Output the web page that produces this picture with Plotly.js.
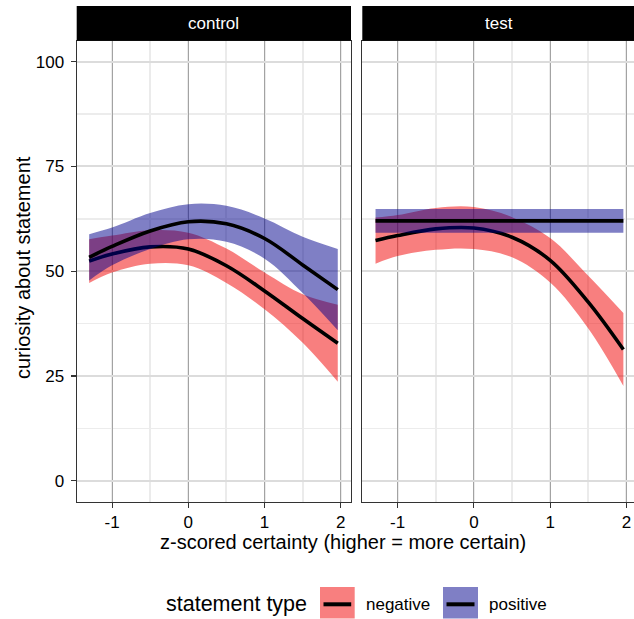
<!DOCTYPE html>
<html>
<head>
<meta charset="utf-8">
<script src="https://cdn.plot.ly/plotly-3.0.1.min.js"></script>
<style>
html, body { margin: 0; padding: 0; overflow: hidden; background: #fff; }
#chart { width: 640px; height: 619px; }
</style>
</head>
<body>
<div id="chart"></div>
<script>
// ---- data ----
const panels = ['control', 'test'];
const seriesNames = ['negative', 'positive'];

const ctrlNegX   = [-1.30, -1.0, -0.5, 0, 0.5, 1.0, 1.5, 1.96];
const ctrlNegFit = [52.4, 54.1, 55.8, 55.3, 51.3, 45.3, 38.7, 32.8];
const ctrlNegCI  = [5.2, 4.4, 4.0, 3.9, 4.1, 4.4, 5.8, 9.2];

const ctrlPosX   = [-1.30, -1.0, -0.5, 0, 0.5, 1.0, 1.5, 1.96];
const ctrlPosFit = [53.3, 55.9, 59.6, 61.8, 61.3, 57.8, 51.5, 45.6];
const ctrlPosCI  = [5.5, 4.5, 4.3, 4.2, 4.3, 4.8, 6.7, 9.7];

const testNegX   = [-1.29, -1.0, -0.5, 0, 0.5, 1.0, 1.5, 1.96];
const testNegFit = [57.3, 58.5, 60.1, 60.3, 58.1, 52.6, 42.6, 31.3];
const testNegCI  = [5.5, 4.9, 5.0, 5.0, 4.8, 5.3, 6.3, 8.7];

const testPosX   = [-1.29, 1.96];
const testPosFit = [62.0, 62.0];
const testPosCI  = [2.85, 2.85];

const xTickVals = [-1, 0, 1, 2];
const xTickText = ['-1', '0', '1', '2'];
const yTickVals = [0, 25, 50, 75, 100];
const yTickText = ['0', '25', '50', '75', '100'];

// ---- styling ----
const W = 640, H = 619;
const fx = p => p / W;
const fy = p => 1 - p / H;
const FONT = 'Liberation Sans, Arial, Helvetica, sans-serif';
const negFill = 'rgba(242,0,0,0.5)';
const posFill = 'rgba(0,0,139,0.5)';
const fills = [negFill, posFill];

function ribbon(x, fit, ci, fill, xa, ya) {
  const lo = fit.map((v, i) => v - ci[i]);
  const hi = fit.map((v, i) => v + ci[i]);
  return [
    {x: x, y: lo, xaxis: xa, yaxis: ya, mode: 'lines', type: 'scatter',
     line: {width: 0, shape: 'spline', smoothing: 1}, hoverinfo: 'skip', showlegend: false},
    {x: x, y: hi, xaxis: xa, yaxis: ya, mode: 'lines', type: 'scatter', fill: 'tonexty',
     fillcolor: fill, line: {width: 0, shape: 'spline', smoothing: 1}, hoverinfo: 'skip', showlegend: false},
    {x: x, y: fit, xaxis: xa, yaxis: ya, mode: 'lines', type: 'scatter',
     line: {width: 3.6, color: '#000', shape: 'spline', smoothing: 1}, hoverinfo: 'skip', showlegend: false}
  ];
}

// negative groups on the base subplots, positive groups on overlaid subplots drawn on top
const data = [].concat(
  ribbon(ctrlNegX, ctrlNegFit, ctrlNegCI, negFill, 'x', 'y'),
  ribbon(testNegX, testNegFit, testNegCI, negFill, 'x2', 'y2'),
  ribbon(ctrlPosX, ctrlPosFit, ctrlPosCI, posFill, 'x', 'y3'),
  ribbon(testPosX, testPosFit, testPosCI, posFill, 'x2', 'y4')
);

const xRange = [-1.4635, 2.1335];
const yRange = [-5, 105];
const panelTop = 40.7, panelBot = 501.7;
const panelX = [[76.7, 351], [362.3, 636.6]];

function xaxisDef(i) {
  return {
    domain: [fx(panelX[i][0]), fx(panelX[i][1])],
    range: xRange, anchor: i === 0 ? 'y' : 'y2',
    tickmode: 'array', tickvals: xTickVals, ticktext: xTickText,
    ticks: 'outside', ticklen: 5, tickwidth: 1.1, tickcolor: '#333',
    ticklabelstandoff: 0,
    tickfont: {family: FONT, size: 17, color: '#000'},
    showgrid: true, gridcolor: '#a3a3a3', gridwidth: 1,
    minor: {tickmode: 'linear', tick0: 0, dtick: 0.5, showgrid: true, gridcolor: '#ebebeb', gridwidth: 2, ticks: ''},
    showline: true, mirror: true, linecolor: '#333', linewidth: 1.2,
    zeroline: false, fixedrange: true
  };
}
function yaxisDef(i) {
  return {
    domain: [fy(panelBot), fy(panelTop)],
    range: yRange, anchor: i === 0 ? 'x' : 'x2',
    tickmode: 'array', tickvals: yTickVals, ticktext: yTickText,
    ticks: i === 0 ? 'outside' : '', ticklen: 5, tickwidth: 1.1, tickcolor: '#333',
    showticklabels: i === 0, ticklabelstandoff: 3,
    tickfont: {family: FONT, size: 17, color: '#000'},
    showgrid: true, gridcolor: '#dcdcdc', gridwidth: 2,
    minor: {tickmode: 'linear', tick0: 0, dtick: 12.5, showgrid: true, gridcolor: '#ececec', gridwidth: 1.5, ticks: ''},
    showline: true, mirror: true, linecolor: '#333', linewidth: 1.2,
    zeroline: false, fixedrange: true
  };
}
function overlayY(base, anchor) {
  return {
    overlaying: base, anchor: anchor, range: yRange,
    showgrid: false, showline: false, zeroline: false, ticks: '',
    showticklabels: false, fixedrange: true
  };
}

const shapes = [];
const annotations = [];
panels.forEach((name, i) => {
  shapes.push({type: 'rect', xref: 'paper', yref: 'paper',
    x0: fx(panelX[i][0]), x1: fx(panelX[i][1]), y0: fy(panelTop), y1: fy(6),
    fillcolor: '#000', line: {width: 0}});
  annotations.push({xref: 'paper', yref: 'paper', x: fx((panelX[i][0] + panelX[i][1]) / 2), y: fy(23.4),
    text: name, showarrow: false, xanchor: 'center', yanchor: 'middle',
    font: {family: FONT, size: 17, color: '#fff'}});
});

annotations.push({xref: 'paper', yref: 'paper', x: fx(343), y: fy(542),
  text: 'z-scored certainty (higher = more certain)', showarrow: false,
  xanchor: 'center', yanchor: 'middle', font: {family: FONT, size: 20, color: '#000'}});
annotations.push({xref: 'paper', yref: 'paper', x: fx(23), y: fy(268),
  text: 'curiosity about statement', showarrow: false, textangle: -90,
  xanchor: 'center', yanchor: 'middle', font: {family: FONT, size: 20, color: '#000'}});

// legend (drawn as decoration)
annotations.push({xref: 'paper', yref: 'paper', x: fx(164), y: fy(604),
  text: 'statement type', showarrow: false, xanchor: 'left', yanchor: 'middle',
  font: {family: FONT, size: 21.5, color: '#000'}});
const keyX = [[320, 354.7, 364], [443, 478, 487]];
seriesNames.forEach((s, i) => {
  shapes.push({type: 'rect', xref: 'paper', yref: 'paper',
    x0: fx(keyX[i][0]), x1: fx(keyX[i][1]), y0: fy(618.5), y1: fy(587),
    fillcolor: fills[i], line: {width: 0}});
  shapes.push({type: 'line', xref: 'paper', yref: 'paper',
    x0: fx(keyX[i][0] + 3.5), x1: fx(keyX[i][1] - 3.5), y0: fy(604.3), y1: fy(604.3),
    line: {color: '#000', width: 4}});
  annotations.push({xref: 'paper', yref: 'paper', x: fx(keyX[i][2]), y: fy(604),
    text: s, showarrow: false, xanchor: 'left', yanchor: 'middle',
    font: {family: FONT, size: 17, color: '#000'}});
});

const layout = {
  width: W, height: H,
  margin: {l: 0, r: 0, t: 0, b: 0, pad: 0},
  paper_bgcolor: '#fff', plot_bgcolor: '#fff',
  showlegend: false, hovermode: false,
  font: {family: FONT, color: '#000'},
  xaxis: xaxisDef(0), xaxis2: xaxisDef(1),
  yaxis: yaxisDef(0), yaxis2: Object.assign(yaxisDef(1), {matches: 'y'}),
  yaxis3: overlayY('y', 'x'), yaxis4: overlayY('y2', 'x2'),
  shapes: shapes, annotations: annotations
};

Plotly.newPlot('chart', data, layout, {staticPlot: true, displayModeBar: false});
</script>
</body>
</html>
